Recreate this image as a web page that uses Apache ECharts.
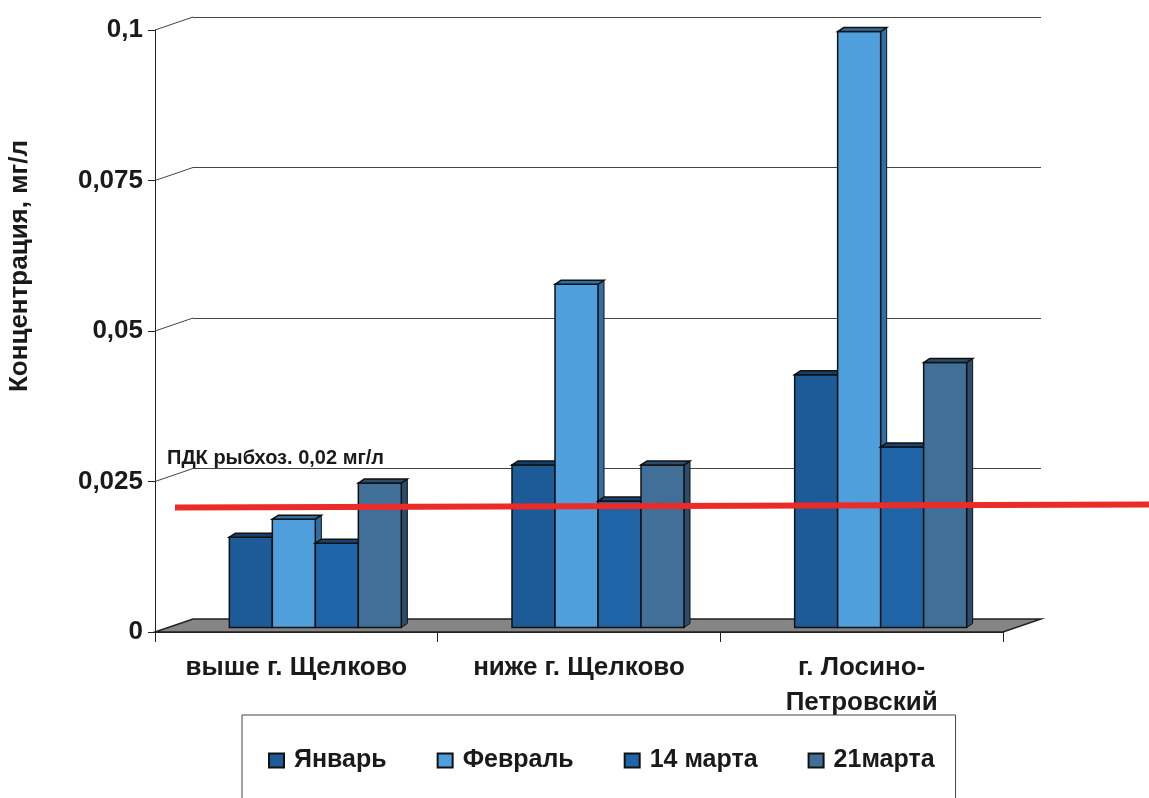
<!DOCTYPE html>
<html>
<head>
<meta charset="utf-8">
<script src="https://cdn.jsdelivr.net/npm/echarts@6/dist/echarts.min.js"></script>
<style>
  html, body { margin: 0; padding: 0; background: #fff; }
  #chart { width: 1149px; height: 798px; }
</style>
</head>
<body>
<div id="chart"></div>
<script>
// данные
const categories = ["выше г. Щелково", "ниже г. Щелково", "г. Лосино-\nПетровский"];
const seriesNames = ["Январь", "Февраль", "14 марта", "21марта"];
const january = [0.015, 0.027, 0.042];
const february = [0.018, 0.057, 0.099];
const march14 = [0.014, 0.021, 0.030];
const march21 = [0.024, 0.027, 0.044];
const yTicks = [0.025, 0.05, 0.075, 0.1];
const pdkValue = 0.02;
const pdkLabel = "ПДК рыбхоз. 0,02 мг/л";

const colors = ["#1c5b97", "#4f9fdc", "#1f64a6", "#416f98"];
const topColors = ["#123f6b", "#2f6fa3", "#144574", "#2b4d6c"];
const depthX = 38, depthY = -13; // глубина "пола"
const barW = 43;
const font = "Liberation Sans, Arial, sans-serif";

const chart = echarts.init(document.getElementById("chart"));

function barSeries(idx, values) {
    return {
        name: seriesNames[idx],
        type: "custom",
        xAxisIndex: 0,
        yAxisIndex: 0,
        z: 5,
        itemStyle: { color: colors[idx], borderColor: "#111", borderWidth: 1 },
        encode: { x: 0, y: 1 },
        data: values.map((v, i) => [i, v]),
        renderItem(params, api) {
            const top = api.coord([api.value(0), api.value(1)]);
            const base = api.coord([api.value(0), 0]);
            const cx = top[0] + depthX / 2;
            const x0 = cx - 2 * barW + idx * barW;
            const yt = top[1] + depthY / 2 + 2;
            const yb = base[1] + depthY / 2 + 2;
            const d = 6, e = 4;
            return {
                type: "group",
                children: [
                    {
                        type: "polygon",
                        shape: { points: [[x0 + barW, yt], [x0 + barW + d, yt - e], [x0 + barW + d, yb - e], [x0 + barW, yb]] },
                        style: { fill: topColors[idx], stroke: "#111", lineWidth: 1 }
                    },
                    {
                        type: "rect",
                        shape: { x: x0, y: yt, width: barW, height: yb - yt },
                        style: { fill: colors[idx], stroke: "#111", lineWidth: 1.5 }
                    },
                    {
                        type: "polygon",
                        shape: { points: [[x0, yt], [x0 + d, yt - e], [x0 + barW + d, yt - e], [x0 + barW, yt]] },
                        style: { fill: topColors[idx], stroke: "#111", lineWidth: 1.5 }
                    }
                ]
            };
        }
    };
}

const option = {
    animation: false,
    backgroundColor: "#fff",
    textStyle: { fontFamily: font },
    grid: [
        { left: 155, right: 146, top: 30, bottom: 166, outerBoundsMode: "none" },
        { left: 155 + depthX, right: 146 - depthX, top: 30 + depthY, bottom: 166 - depthY, outerBoundsMode: "none" }
    ],
    legend: {
        data: seriesNames,
        left: 242,
        top: 715,
        padding: [33, 21, 60, 26],
        borderColor: "#444",
        borderWidth: 1,
        itemGap: 50,
        itemWidth: 15,
        itemHeight: 14,
        icon: "rect",
        textStyle: { fontSize: 25, fontWeight: "bold", color: "#1a1a1a", padding: [0, 0, 0, 5] }
    },
    xAxis: [
        {
            type: "category",
            gridIndex: 0,
            data: categories,
            axisLine: { show: true, lineStyle: { color: "#222", width: 1 } },
            axisTick: { show: true, length: 10, lineStyle: { color: "#222" } },
            axisLabel: {
                interval: 0,
                margin: 18,
                fontSize: 26,
                fontWeight: "bold",
                color: "#1a1a1a",
                lineHeight: 35
            },
            splitLine: { show: false }
        },
        {
            type: "category",
            gridIndex: 1,
            data: categories,
            show: false
        }
    ],
    yAxis: [
        {
            type: "value",
            gridIndex: 0,
            min: 0,
            max: 0.1,
            interval: 0.025,
            name: "Концентрация, мг/л",
            nameLocation: "middle",
            nameRotate: 90,
            nameGap: 122,
            nameTextStyle: { fontSize: 26, fontWeight: "bold", color: "#1a1a1a", padding: [0, 0, 0, 130] },
            axisLine: { show: true, lineStyle: { color: "#222", width: 1 } },
            axisTick: { show: true, length: 7, lineStyle: { color: "#222" } },
            axisLabel: {
                fontSize: 26,
                fontWeight: "bold",
                color: "#1a1a1a",
                margin: 12,
                formatter: v => String(+v.toFixed(3)).replace(".", ",")
            },
            splitLine: { show: false }
        },
        {
            type: "value",
            gridIndex: 1,
            min: 0,
            max: 0.1,
            interval: 0.025,
            axisLine: { show: false },
            axisTick: { show: false },
            axisLabel: { show: false },
            splitLine: { show: true, lineStyle: { color: "#444", width: 1 } }
        }
    ],
    series: [
        // диагонали от оси к задней стенке
        {
            type: "custom",
            xAxisIndex: 0,
            yAxisIndex: 0,
            silent: true,
            z: 1,
            data: yTicks.map(v => [0, v]),
            renderItem(params, api) {
                const p = api.coord([0, api.value(1)]);
                const x = params.coordSys.x;
                return {
                    type: "line",
                    shape: { x1: x, y1: p[1], x2: x + depthX, y2: p[1] + depthY },
                    style: { stroke: "#444", lineWidth: 1 }
                };
            }
        },
        // пол
        {
            type: "custom",
            xAxisIndex: 0,
            yAxisIndex: 0,
            silent: true,
            z: 2,
            data: [[0, 0]],
            renderItem(params, api) {
                const y = api.coord([0, 0])[1];
                const x1 = params.coordSys.x;
                const x2 = x1 + params.coordSys.width;
                return {
                    type: "polygon",
                    shape: { points: [[x1, y], [x1 + depthX, y + depthY], [x2 + depthX, y + depthY], [x2, y]] },
                    style: { fill: "#858585", stroke: "#222", lineWidth: 1.5 }
                };
            }
        },
        barSeries(0, january),
        barSeries(1, february),
        barSeries(2, march14),
        barSeries(3, march21),
        // линия ПДК
        {
            type: "custom",
            xAxisIndex: 0,
            yAxisIndex: 0,
            silent: true,
            z: 10,
            data: [[0, pdkValue]],
            renderItem(params, api) {
                const y = api.coord([0, api.value(1)])[1] - 4;
                const x = params.coordSys.x;
                return {
                    type: "group",
                    children: [
                        {
                            type: "line",
                            shape: { x1: x + 20, y1: y, x2: api.getWidth(), y2: y - 3 },
                            style: { stroke: "#ec2a26", lineWidth: 6 }
                        },
                        {
                            type: "text",
                            style: {
                                x: x + 12,
                                y: y - 49,
                                text: pdkLabel,
                                fill: "#1a1a1a",
                                font: "bold 20px 'Liberation Sans', Arial, sans-serif",
                                verticalAlign: "middle"
                            }
                        }
                    ]
                };
            }
        }
    ]
};

chart.setOption(option);
</script>
</body>
</html>
